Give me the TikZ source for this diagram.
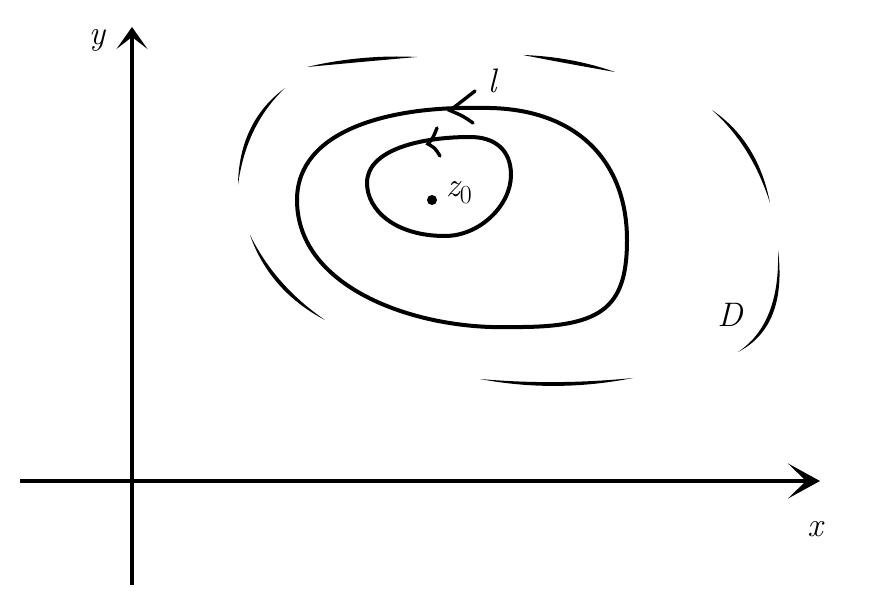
\documentclass[tikz,border=0pt]{standalone}
\usepackage{fontspec}
\usetikzlibrary{arrows.meta,calc}
% tapered stroke: start, point on curve near middle, end, half thickness
\newcommand\taperstroke[4]{%
  \coordinate (tn) at ($(#1)!#4!90:(#3)$);
  \coordinate (tp) at ($(#2)+(tn)-(#1)$);
  \coordinate (tm) at ($(#2)-(tn)+(#1)$);
  \fill (#1) .. controls ($(tp)!-0.3333!(#3)$) and ($(tp)!-0.3333!(#1)$) .. (#3)
             .. controls ($(tm)!-0.3333!(#1)$) and ($(tm)!-0.3333!(#3)$) .. (#1) -- cycle;}
\begin{document}
\begin{tikzpicture}[x=1pt,y=-1pt,
  axis/.style={line width=4.2pt},
  curve/.style={line width=4pt},
  barb/.style={line width=3.4pt, line cap=round, line join=miter},
  lab/.style={font=\fontsize{34}{40}\selectfont\itshape, inner sep=0pt}]
\useasboundingbox (0,0) rectangle (873,601);
% axes
\coordinate (xs) at (20,481);
\coordinate (xe) at (820,481);
\coordinate (ys) at (132,585);
\coordinate (ye) at (132,27);
\draw[axis,-{Stealth[length=32pt,width=35pt,inset=18pt]}] (xs) -- (xe);
\draw[axis,-{Stealth[length=22pt,width=31pt,inset=12pt]}] (ys) -- (ye);
\node[lab] (ylab) at (97,40) {y};
\node[lab] (xlab) at (815,529) {x};
% region D (broken boundary)
\taperstroke{307,67}{362,60}{417,57}{1.9pt}
\taperstroke{523,55}{570,62}{615,72}{1.9pt}
\taperstroke{285,88}{252,130}{238,185}{1.9pt}
\taperstroke{250,235}{280,283}{325,320}{1.9pt}
\taperstroke{712,110}{748,150}{770,203}{1.9pt}
\taperstroke{778,250}{771,313}{738,352}{1.9pt}
\taperstroke{480,379}{556,384}{633,378}{1.9pt}
\node[lab] (Dlab) at (730,315) {D};
% contour l
\coordinate (lT) at (480,108);
\coordinate (lR) at (627,240);
\coordinate (lB) at (510,327);
\coordinate (lL) at (297,200);
\draw[curve] (lT) .. controls (575,106) and (627,160) .. (lR)
  .. controls (627,310) and (600,328) .. (lB)
  .. controls (420,330) and (297,290) .. (lL)
  .. controls (297,130) and (390,106) .. (lT) -- cycle;
\coordinate (lt) at (450,110.5);
\draw[barb] (475,91) .. controls (462,101) .. (lt) .. controls (463,116) .. (473,123);
\node[lab] (llab) at (492,81) {l};
% small contour
\coordinate (sT) at (470,137);
\coordinate (sR) at (511,175);
\coordinate (sB) at (445,236);
\coordinate (sL) at (367,183);
\draw[curve] (sT) .. controls (495,137) and (511,150) .. (sR)
  .. controls (511,205) and (480,236) .. (sB)
  .. controls (395,236) and (367,210) .. (sL)
  .. controls (367,150) and (420,137) .. (sT) -- cycle;
\coordinate (st) at (428,144);
\draw[barb] (437,128) .. controls (433,138) .. (st) .. controls (435,148) .. (440,156);
% point z0
\fill (432,200) circle (5pt);
\node[lab] (zlab) at (459,193) {z\raisebox{-7pt}{\fontsize{26}{26}\selectfont\upshape 0}};
\end{tikzpicture}
\end{document}
